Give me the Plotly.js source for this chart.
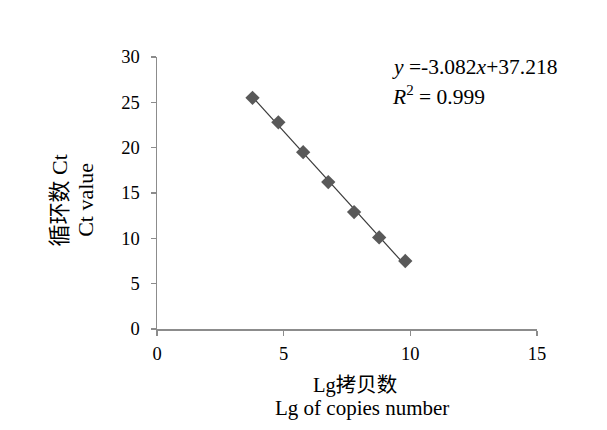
<!DOCTYPE html>
<html>
<head>
<meta charset="utf-8">
<script src="https://cdn.plot.ly/plotly-3.0.1.min.js"></script>
<style>html,body{margin:0;padding:0;background:#fff;}#chart{width:607px;height:430px;}</style>
</head>
<body>
<div id="chart"></div>
<script>
// Data
var lgCopies = [3.77, 4.79, 5.77, 6.76, 7.78, 8.77, 9.8];
var ctValues = [25.5, 22.8, 19.5, 16.2, 12.9, 10.1, 7.5];
var fitSlope = -3.082;
var fitIntercept = 37.218;
var xTicks = [0, 5, 10, 15];
var yTicks = [0, 5, 10, 15, 20, 25, 30];

var xMin = Math.min.apply(null, lgCopies), xMax = Math.max.apply(null, lgCopies);
var lineX = [xMin, xMax];
var lineY = lineX.map(function (x) { return fitSlope * x + fitIntercept; });

var serif = "'Liberation Serif', 'Times New Roman', 'Noto Sans CJK SC', serif";

var traces = [
  { x: lineX, y: lineY, mode: 'lines', line: { color: '#3a3a3a', width: 1.2 }, hoverinfo: 'skip' },
  { x: lgCopies, y: ctValues, mode: 'markers',
    marker: { symbol: 'diamond', size: 11, color: '#595959', line: { width: 0 } } }
];

function ann(x, y, text, extra) {
  var a = { xref: 'paper', yref: 'paper', x: x, y: y, xanchor: 'center', yanchor: 'middle',
    showarrow: false, font: { family: serif, size: 21, color: '#000' }, text: text };
  for (var k in extra) a[k] = extra[k];
  return a;
}

var layout = {
  width: 607, height: 430,
  margin: { l: 157, r: 70, t: 57, b: 101 },
  paper_bgcolor: '#fff', plot_bgcolor: '#fff',
  showlegend: false,
  font: { family: serif, size: 18, color: '#000' },
  xaxis: {
    range: [0, 15], tickvals: xTicks, ticktext: xTicks.map(String),
    showgrid: false, zeroline: false, showline: true, linecolor: '#8c8c8c', linewidth: 1.5,
    ticks: 'outside', ticklen: 5, tickcolor: '#8c8c8c', tickwidth: 1.5,
    tickfont: { family: serif, size: 18.5 }, ticklabelstandoff: 2,
    title: { text: '' }
  },
  yaxis: {
    range: [0, 30], tickvals: yTicks, ticktext: yTicks.map(String),
    showgrid: false, zeroline: false, showline: true, linecolor: '#8c8c8c', linewidth: 1.5,
    ticks: 'outside', ticklen: 5, tickcolor: '#8c8c8c', tickwidth: 1.5,
    tickfont: { family: serif, size: 18.5 }, ticklabelstandoff: 7,
    title: { text: '' }
  },
  annotations: [
    ann(-0.257, 0.474, '循环数 Ct', { textangle: -90, font: { family: serif, size: 22 } }),
    ann(-0.19, 0.474, 'Ct value', { textangle: -90, font: { family: serif, size: 22 } }),
    ann(0.521, -0.206, 'Lg拷贝数', { font: { family: serif, size: 20.5 } }),
    ann(0.54, -0.292, 'Lg of copies number', { font: { family: serif, size: 21 } }),
    ann(0.612, 0.963, '<i>y</i> =-3.082<i>x</i>+37.218', { xanchor: 'left', font: { family: serif, size: 21.5 } }),
    ann(0.612, 0.857, '<i>R</i><sup>2</sup> = 0.999', { xanchor: 'left', font: { family: serif, size: 21.5 } })
  ]
};

Plotly.newPlot('chart', traces, layout, { displayModeBar: false, staticPlot: true });
</script>
</body>
</html>
